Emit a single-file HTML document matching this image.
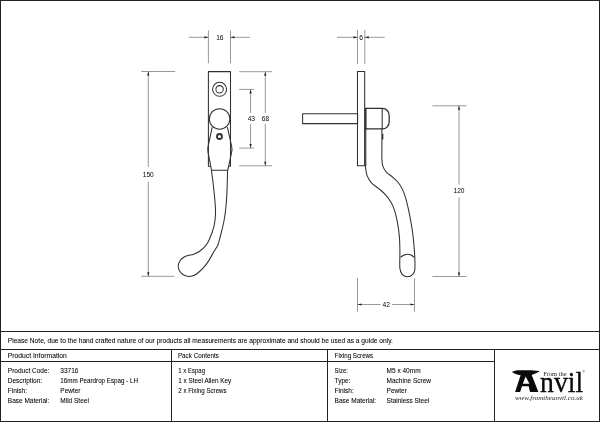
<!DOCTYPE html>
<html><head><meta charset="utf-8">
<style>
html,body{margin:0;padding:0;background:#fff;}
body{width:600px;height:422px;overflow:hidden;font-family:"Liberation Sans",sans-serif;}
svg{display:block;will-change:transform;transform:translateZ(0);}
text{font-family:"Liberation Sans",sans-serif;fill:#000;}
.t{font-size:6.5px;stroke:#000;stroke-width:0.06;}
.d{font-size:6.6px;fill:#000;}
.o{fill:none;stroke:#303030;stroke-width:1.05;stroke-linecap:round;stroke-linejoin:round;}
.g{fill:none;stroke:#777;stroke-width:0.75;}
.b{fill:none;stroke:#222;stroke-width:1;shape-rendering:crispEdges;}
.ar{fill:#222;stroke:none;}
</style></head><body>
<svg width="600" height="422" viewBox="0 0 600 422">
<rect x="0" y="0" width="600" height="422" fill="#fff"/>
<!-- frame and table -->
<g class="b">
<rect x="0.5" y="0.5" width="599" height="421"/>
<line x1="0" y1="331.5" x2="600" y2="331.5"/>
<line x1="0" y1="349.5" x2="600" y2="349.5"/>
<line x1="0" y1="361.5" x2="494" y2="361.5"/>
<line x1="171.5" y1="349" x2="171.5" y2="422"/>
<line x1="327.5" y1="349" x2="327.5" y2="422"/>
<line x1="494.5" y1="349" x2="494.5" y2="422"/>
</g>
<!-- table text -->
<g class="t">
<text x="7.8" y="343.2" textLength="385" lengthAdjust="spacingAndGlyphs">Please Note, due to the hand crafted nature of our products all measurements are approximate and should be used as a guide only.</text>
<text x="7.8" y="357.9" textLength="59" lengthAdjust="spacingAndGlyphs">Product Information</text>
<text x="177.9" y="357.9" textLength="41" lengthAdjust="spacingAndGlyphs">Pack Contents</text>
<text x="334.6" y="357.9" textLength="38.6" lengthAdjust="spacingAndGlyphs">Fixing Screws</text>
<text x="7.8" y="372.8">Product Code:</text>
<text x="7.8" y="383">Description:</text>
<text x="7.8" y="393.2">Finish:</text>
<text x="7.8" y="403.2">Base Material:</text>
<text x="60.3" y="372.8">33716</text>
<text x="60.3" y="383" textLength="77.8" lengthAdjust="spacingAndGlyphs">16mm Peardrop Espag - LH</text>
<text x="60.3" y="393.2">Pewter</text>
<text x="60.3" y="403.2">Mild Steel</text>
<text x="178.3" y="372.8" textLength="26.7" lengthAdjust="spacingAndGlyphs">1 x Espag</text>
<text x="178.3" y="383" textLength="52.9" lengthAdjust="spacingAndGlyphs">1 x Steel Allen Key</text>
<text x="178.3" y="393.2" textLength="48.3" lengthAdjust="spacingAndGlyphs">2 x Fixing Screws</text>
<text x="334.6" y="372.8" textLength="13.3" lengthAdjust="spacingAndGlyphs">Size:</text>
<text x="334.6" y="383">Type:</text>
<text x="334.6" y="393.2">Finish:</text>
<text x="334.6" y="403.2">Base Material:</text>
<text x="386.6" y="372.8">M5 x 40mm</text>
<text x="386.6" y="383">Machine Screw</text>
<text x="386.6" y="393.2">Pewter</text>
<text x="386.6" y="403.2" textLength="42.6" lengthAdjust="spacingAndGlyphs">Stainless Steel</text>
</g>
<!-- FRONT VIEW -->
<g class="o">
<path d="M208.4 150 V71.6 H230.5 V150"/>
<path d="M208.4 150 V166.2 H210.3 M230.5 150 V166.2 H228.7"/>
<circle cx="219.6" cy="89.3" r="7"/>
<circle cx="219.6" cy="89.3" r="3.7"/>
<circle cx="219.6" cy="118.9" r="10.25" fill="#fff"/>
<circle cx="219.5" cy="136.5" r="2.5" stroke-width="1.8"/>
<path d="M212.1 127.6 L208.1 146.3 Q207.4 149.2 208 152.2 L211.5 170.2 H227.8 L231.6 152.4 Q232.3 149.4 231.7 146.5 L227.5 127.6"/>
<path d="M211.40 170.30 C211.70 172.58 212.58 178.57 213.20 184.00 C213.82 189.43 214.72 197.85 215.10 202.90 C215.48 207.95 215.68 210.38 215.50 214.30 C215.32 218.22 215.07 222.12 214.00 226.40 C212.93 230.68 210.52 236.75 209.10 240.00 C207.68 243.25 207.08 244.02 205.50 245.90 C203.92 247.78 201.57 249.92 199.60 251.30 C197.63 252.68 195.67 253.48 193.70 254.20 C191.73 254.92 189.58 255.00 187.80 255.60 C186.02 256.20 184.28 256.95 183.00 257.80 C181.72 258.65 180.88 259.52 180.10 260.70 C179.32 261.88 178.50 263.42 178.30 264.90 C178.10 266.38 178.40 268.22 178.90 269.60 C179.40 270.98 180.32 272.22 181.30 273.20 C182.28 274.18 183.43 274.97 184.80 275.50 C186.17 276.03 187.92 276.43 189.50 276.40 C191.08 276.37 192.72 276.03 194.30 275.30 C195.88 274.57 197.32 273.43 199.00 272.00 C200.68 270.57 202.72 268.68 204.40 266.70 C206.08 264.72 207.53 262.58 209.10 260.10 C210.67 257.62 212.32 254.37 213.80 251.80 C215.28 249.23 216.82 247.67 218.00 244.70 C219.18 241.73 219.93 237.78 220.90 234.00 C221.87 230.22 223.02 226.00 223.80 222.00 C224.58 218.00 225.08 214.77 225.60 210.00 C226.12 205.23 226.57 200.02 226.90 193.40 C227.23 186.78 227.48 174.15 227.60 170.30"/>
</g>
<!-- front dims -->
<g class="g">
<line x1="208.4" y1="30.4" x2="208.4" y2="63.3"/>
<line x1="230.5" y1="30.4" x2="230.5" y2="63.3"/>
<line x1="188.7" y1="37.3" x2="208.4" y2="37.3"/>
<line x1="230.5" y1="37.3" x2="250" y2="37.3"/>
<line x1="141.1" y1="71.5" x2="175.2" y2="71.5"/>
<line x1="141.1" y1="276.3" x2="174.2" y2="276.3"/>
<line x1="148.3" y1="71.5" x2="148.3" y2="167"/>
<line x1="148.3" y1="181.6" x2="148.3" y2="276.3"/>
<line x1="239.2" y1="71.7" x2="272" y2="71.7"/>
<line x1="239.2" y1="165.8" x2="272" y2="165.8"/>
<line x1="239.2" y1="89.4" x2="253.9" y2="89.4"/>
<line x1="239.2" y1="148.1" x2="253.9" y2="148.1"/>
<line x1="265.3" y1="71.7" x2="265.3" y2="113.1"/>
<line x1="265.3" y1="123.9" x2="265.3" y2="165.8"/>
<line x1="250.6" y1="89.4" x2="250.6" y2="113.1"/>
<line x1="250.6" y1="123.9" x2="250.6" y2="148.1"/>
</g>
<g class="ar">
<path d="M208.4 37.3 l-4 -1.1 v2.2z"/>
<path d="M230.5 37.3 l4 -1.1 v2.2z"/>
<path d="M148.3 71.5 l-1.1 4 h2.2z"/>
<path d="M148.3 276.3 l-1.1 -4 h2.2z"/>
<path d="M265.3 71.7 l-1.1 4 h2.2z"/>
<path d="M265.3 165.8 l-1.1 -4 h2.2z"/>
<path d="M250.6 89.4 l-1.1 4 h2.2z"/>
<path d="M250.6 148.1 l-1.1 -4 h2.2z"/>
</g>
<g class="d" text-anchor="middle">
<text x="219.8" y="39.9">16</text>
<text x="148.3" y="176.8">150</text>
<text x="251.3" y="121">43</text>
<text x="265.5" y="121">68</text>
</g>
<!-- SIDE VIEW -->
<g class="o">
<rect x="302.6" y="113.7" width="55" height="9.9"/>
<rect x="357.5" y="71.5" width="7.2" height="94.2"/>
<path d="M365.3 108.4 H382.2 C386.5 108.4 389.2 111.5 389.2 115.5 V121.8 C389.2 125.8 386.5 128.9 382.2 128.9 H365.3 Z" stroke-width="1.25"/>
<line x1="366" y1="108.4" x2="366" y2="128.9"/>
<line x1="382.2" y1="108.4" x2="382.2" y2="128.9"/>
<path d="M382.7 134.1 V139.1" stroke-width="1.3"/>
<path d="M365.00 129.00 C365.00 132.50 364.97 144.50 365.00 150.00 C365.03 155.50 365.08 158.92 365.20 162.00 C365.32 165.08 365.38 166.23 365.70 168.50 C366.02 170.77 366.15 173.22 367.10 175.60 C368.05 177.98 369.50 180.67 371.40 182.80 C373.30 184.93 376.13 186.40 378.50 188.40 C380.87 190.40 383.47 192.42 385.60 194.80 C387.73 197.18 389.77 199.97 391.30 202.70 C392.83 205.43 393.80 208.03 394.80 211.20 C395.80 214.37 396.53 217.42 397.30 221.70 C398.07 225.98 398.97 231.85 399.40 236.90 C399.83 241.95 399.82 246.75 399.90 252.00 C399.98 257.25 399.52 264.68 399.90 268.40 C400.28 272.12 400.92 272.92 402.20 274.30 C403.48 275.68 405.83 276.70 407.60 276.70 C409.37 276.70 411.60 275.43 412.80 274.30 C414.00 273.17 414.47 272.78 414.80 269.90 C415.13 267.02 414.93 260.98 414.80 257.00 C414.67 253.02 414.35 249.98 414.00 246.00 C413.65 242.02 413.28 237.48 412.70 233.10 C412.12 228.72 411.10 223.12 410.50 219.70 C409.90 216.28 409.82 215.92 409.10 212.60 C408.38 209.28 407.27 203.58 406.20 199.80 C405.13 196.02 404.00 192.73 402.70 189.90 C401.40 187.07 400.07 184.93 398.40 182.80 C396.73 180.67 394.72 178.88 392.70 177.10 C390.68 175.32 387.97 174.00 386.30 172.10 C384.63 170.20 383.43 168.02 382.70 165.70 C381.97 163.38 382.03 160.82 381.90 158.20 C381.77 155.58 381.90 154.87 381.90 150.00 C381.90 145.13 381.90 132.50 381.90 129.00"/>
<path d="M400.9 257 C402.8 255.2 405.2 254.2 407.7 254.2 C410.2 254.2 412.4 255.3 414.2 257.3"/>
<line x1="365.9" y1="128.9" x2="365.9" y2="165.7" stroke-width="0.8"/>
</g>
<g class="g">
<line x1="357.5" y1="30" x2="357.5" y2="64"/>
<line x1="364.8" y1="30" x2="364.8" y2="64"/>
<line x1="337" y1="37.3" x2="357.5" y2="37.3"/>
<line x1="364.8" y1="37.3" x2="384.7" y2="37.3"/>
<line x1="432.4" y1="105.8" x2="466.4" y2="105.8"/>
<line x1="432.4" y1="276.5" x2="466.4" y2="276.5"/>
<line x1="459" y1="105.8" x2="459" y2="184.5"/>
<line x1="459" y1="197.3" x2="459" y2="276.5"/>
<line x1="357.5" y1="278" x2="357.5" y2="311.7"/>
<line x1="414.5" y1="278.4" x2="414.5" y2="311.7"/>
<line x1="357.5" y1="304.5" x2="380.5" y2="304.5"/>
<line x1="392.2" y1="304.5" x2="414.5" y2="304.5"/>
</g>
<g class="ar">
<path d="M357.5 37.3 l-4 -1.1 v2.2z"/>
<path d="M364.8 37.3 l4 -1.1 v2.2z"/>
<path d="M459 105.8 l-1.1 4 h2.2z"/>
<path d="M459 276.5 l-1.1 -4 h2.2z"/>
<path d="M357.5 304.5 l4 -1.1 v2.2z"/>
<path d="M414.5 304.5 l-4 -1.1 v2.2z"/>
</g>
<g class="d" text-anchor="middle">
<text x="361.1" y="39.7">6</text>
<text x="459" y="193.1">120</text>
<text x="386.2" y="306.8">42</text>
</g>
<!-- LOGO -->
<g>
<path d="M511.8 371.7 L517 370.3 H531 L539.2 371.1 V371.8 L533 374.6 L531.7 374.9 L538.4 391.9 H530 L528.7 386.3 H522 L520.1 391.9 H515.1 L520.6 375.3 C517 374.6 514 373.4 511.8 371.7 Z M522.8 383.7 H529.5 L525.6 376.4 Z" fill="#0a0a0a" fill-rule="evenodd"/>
<text x="540" y="391.9" style="font-family:'Liberation Serif',serif;font-size:28.6px;fill:#0a0a0a;stroke:#0a0a0a;stroke-width:0.3" textLength="43.2" lengthAdjust="spacingAndGlyphs">nvil</text>
<text x="543.2" y="376" style="font-family:'Liberation Serif',serif;font-size:6.6px;fill:#222" textLength="23.4" lengthAdjust="spacingAndGlyphs">From the</text>
<text x="514.9" y="399.6" style="font-family:'Liberation Serif',serif;font-style:italic;font-size:6.6px;fill:#222" textLength="68" lengthAdjust="spacingAndGlyphs">www.fromtheanvil.co.uk</text>
<circle cx="583.6" cy="371.3" r="0.8" fill="none" stroke="#333" stroke-width="0.4"/>
</g>
</svg>
</body></html>
